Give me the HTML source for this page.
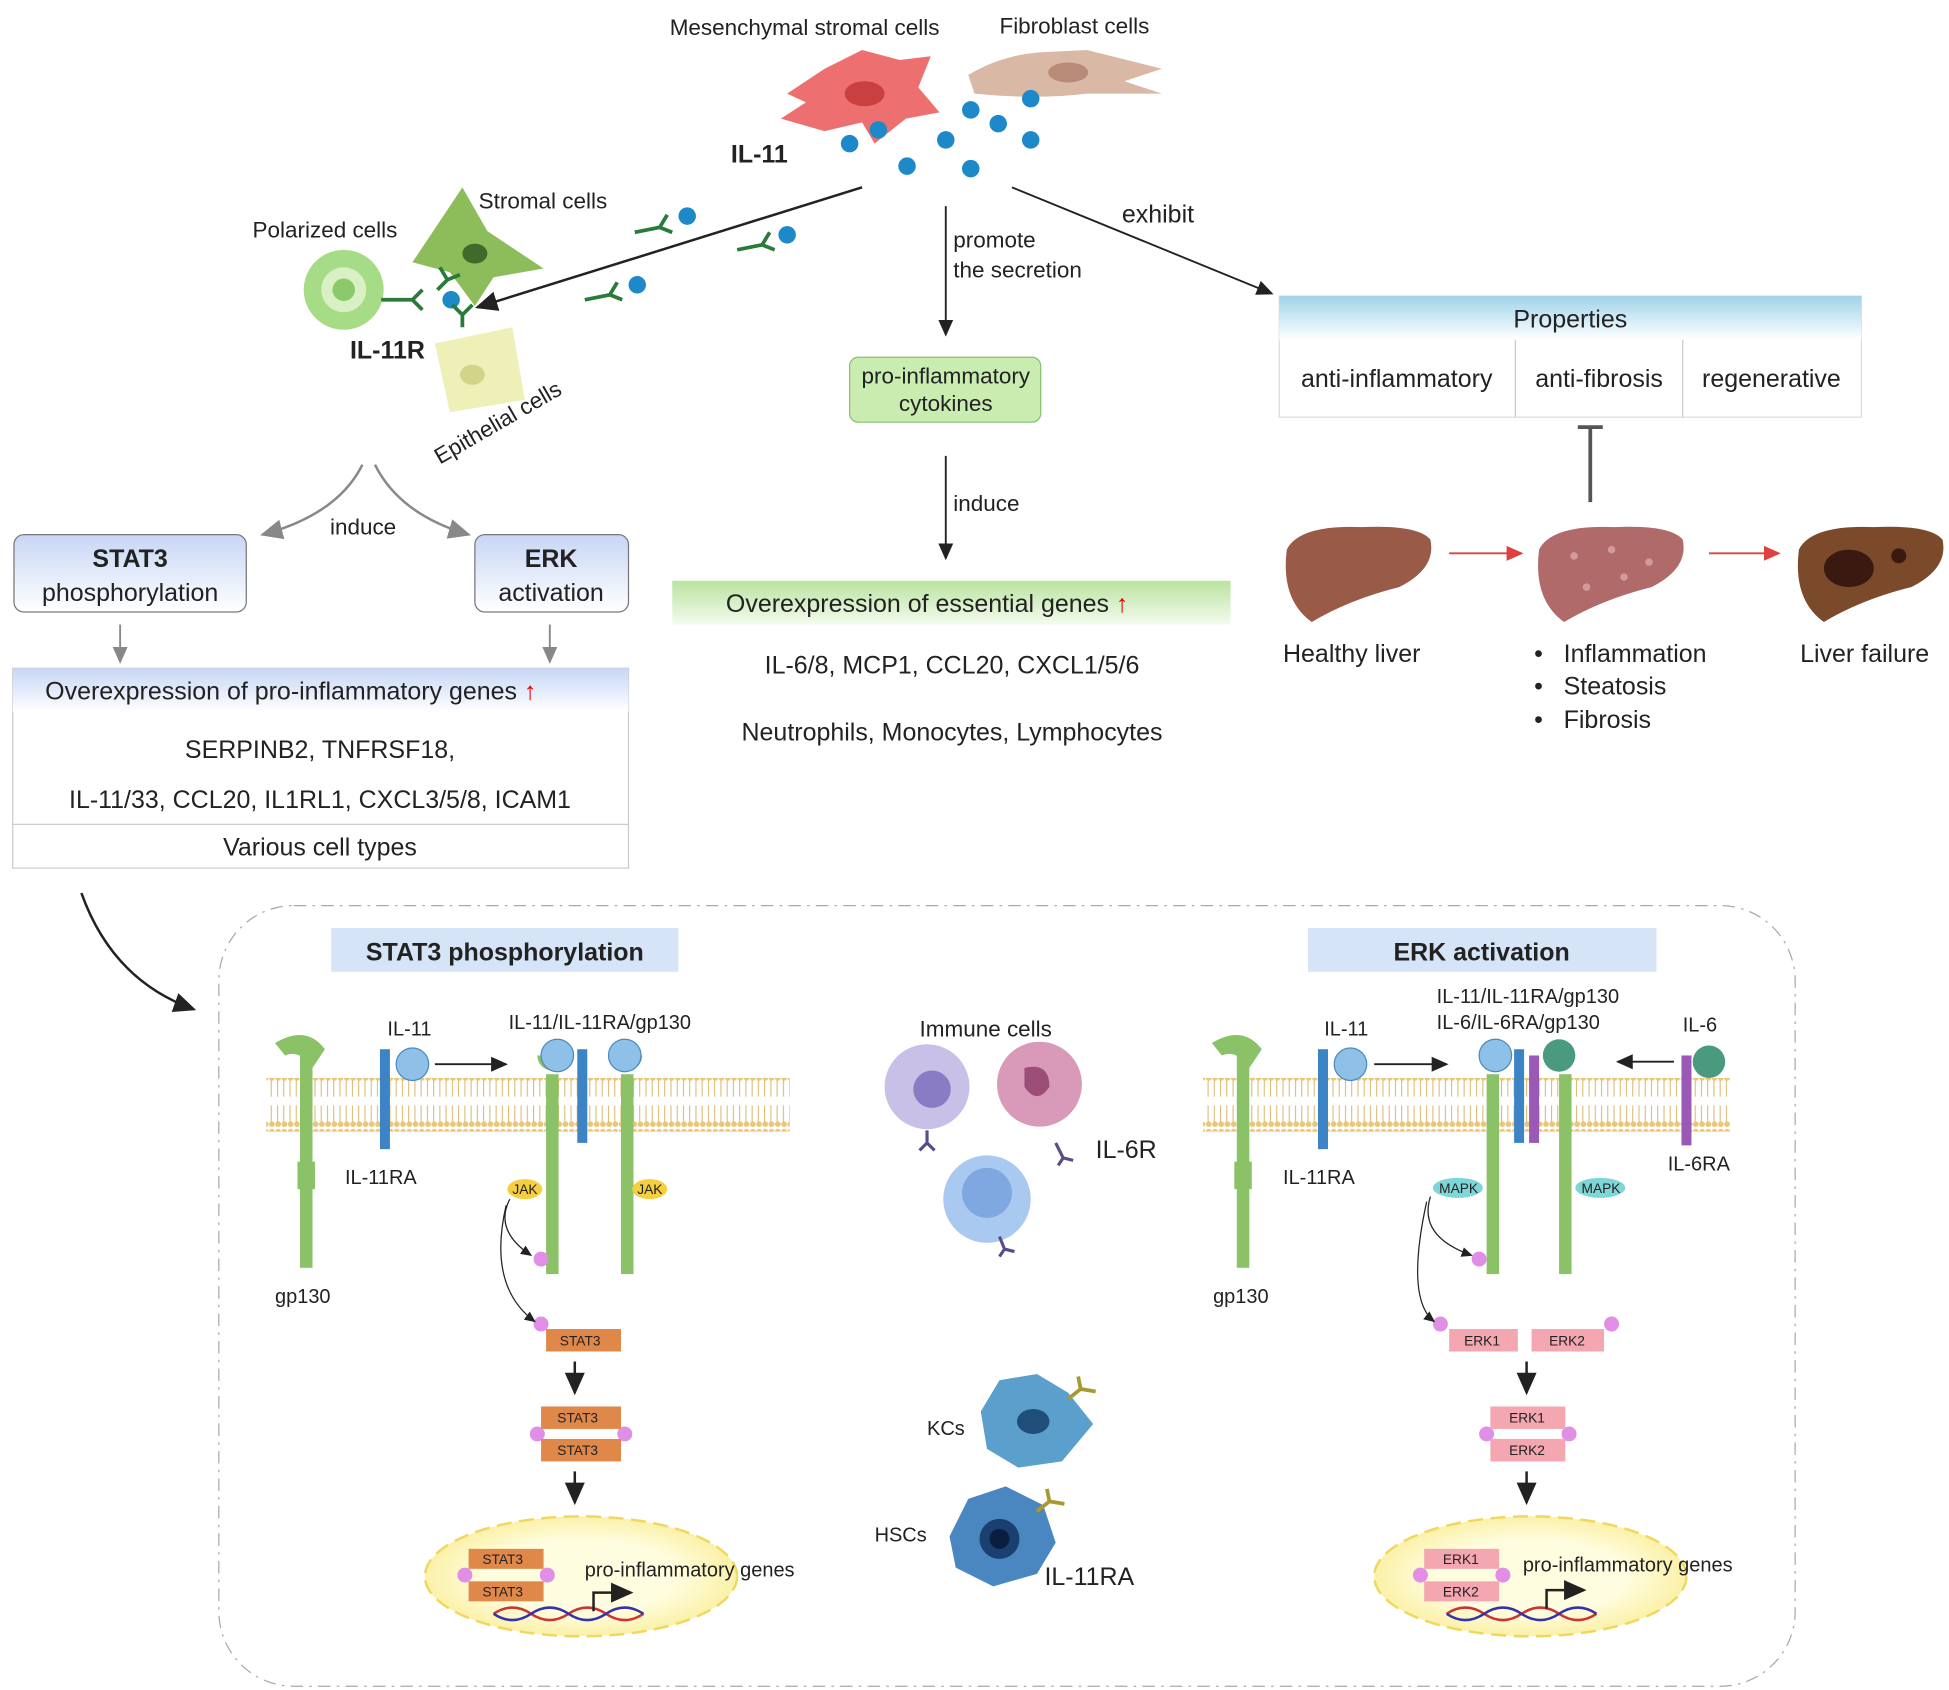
<!DOCTYPE html>
<html><head><meta charset="utf-8"><style>html,body{margin:0;padding:0;background:#fff}svg{display:block}text{font-family:"Liberation Sans",sans-serif}</style></head><body>
<svg width="1949" height="1690" viewBox="0 0 1560 1353" xmlns="http://www.w3.org/2000/svg">
<defs>
<marker id="a" markerWidth="10" markerHeight="10" refX="8" refY="5" orient="auto"><path d="M0,1 L9,5 L0,9 z" fill="#222"/></marker>
<marker id="g" markerWidth="10" markerHeight="10" refX="8" refY="5" orient="auto"><path d="M0,1 L9,5 L0,9 z" fill="#888"/></marker>
<marker id="r" markerWidth="10" markerHeight="10" refX="8" refY="5" orient="auto"><path d="M0,1 L9,5 L0,9 z" fill="#e04040"/></marker>
<linearGradient id="bl" x1="0" y1="0" x2="0" y2="1"><stop offset="0" stop-color="#9fd3ea"/><stop offset="1" stop-color="#fff"/></linearGradient>
<linearGradient id="gr" x1="0" y1="0" x2="0" y2="1"><stop offset="0" stop-color="#b9e39f"/><stop offset="1" stop-color="#f4fbef"/></linearGradient>
<linearGradient id="lv" x1="0" y1="0" x2="0" y2="1"><stop offset="0" stop-color="#c7d6f5"/><stop offset="1" stop-color="#fff"/></linearGradient>
<radialGradient id="nuc"><stop offset="0.6" stop-color="#fffde0"/><stop offset="1" stop-color="#fbf1a8"/></radialGradient>
<pattern id="mem" width="5" height="43" patternUnits="userSpaceOnUse"><rect width="5" height="43" fill="#fff"/><circle cx="2.5" cy="3" r="2.3" fill="#e8c77a"/><circle cx="2.5" cy="40" r="2.3" fill="#e8c77a"/><line x1="2" y1="5" x2="2" y2="18" stroke="#d8b66a" stroke-width="0.8"/><line x1="2" y1="25" x2="2" y2="38" stroke="#d8b66a" stroke-width="0.8"/></pattern>
</defs>
<g font-size="18" fill="#222">
<text x="536" y="28">Mesenchymal stromal cells</text>
<text x="800" y="27">Fibroblast cells</text>
<path d="M630,75 L660,55 L690,40 L720,48 L745,45 L735,70 L752,90 L725,95 L700,115 L690,98 L660,105 L625,95 L645,82z" fill="#ee6f6f"/>
<ellipse cx="692" cy="75" rx="16" ry="10" fill="#c84040"/>
<path d="M775,60 Q800,45 830,42 L870,40 L930,55 L900,65 L930,75 L870,75 Q830,80 780,75z" fill="#d9b8a5"/>
<ellipse cx="855" cy="58" rx="16" ry="8" fill="#b88b78"/>
<g fill="#1d89c9"><circle cx="680" cy="115" r="7"/><circle cx="703" cy="104" r="7"/><circle cx="726" cy="133" r="7"/><circle cx="757" cy="112" r="7"/><circle cx="777" cy="88" r="7"/><circle cx="799" cy="99" r="7"/><circle cx="825" cy="79" r="7"/><circle cx="825" cy="112" r="7"/><circle cx="777" cy="135" r="7"/><circle cx="361" cy="240" r="7"/><circle cx="550" cy="173" r="7"/><circle cx="630" cy="188" r="7"/><circle cx="510" cy="228" r="7"/></g>
<text x="585" y="130" font-weight="bold" font-size="20">IL-11</text>
<line x1="690" y1="150" x2="382" y2="246" stroke="#222" stroke-width="2" marker-end="url(#a)"/>
<line x1="757" y1="165" x2="757" y2="268" stroke="#222" stroke-width="1.5" marker-end="url(#a)"/>
<line x1="810" y1="150" x2="1018" y2="235" stroke="#222" stroke-width="1.5" marker-end="url(#a)"/>
<text x="763" y="198">promote</text><text x="763" y="222">the secretion</text>
<text x="898" y="178" font-size="20">exhibit</text>
<text x="202" y="190">Polarized cells</text><text x="383" y="167">Stromal cells</text>
<path d="M330,210 L370,150 L390,185 L435,215 L395,222 L380,245 L360,218z" fill="#8dbd5a"/>
<ellipse cx="380" cy="203" rx="10" ry="8" fill="#3f6b2a"/>
<circle cx="275" cy="232" r="32" fill="#a6dc85"/><circle cx="275" cy="232" r="18" fill="#d9f0c5"/><circle cx="275" cy="232" r="9" fill="#8cc96a"/>
<path d="M348,275 L410,262 L420,320 L360,330z" fill="#eef0b8"/>
<ellipse cx="378" cy="300" rx="10" ry="8" fill="#d2d48a"/>
<g stroke="#2a7a3a" stroke-width="3" fill="none"><path d="M305,240 L330,240 M330,240 l8,-8 M330,240 l8,8"/><path d="M370,262 v-10 l-8,-8 M370,252 l8,-8"/><path d="M508,186 l20,-4 l6,-10 M528,182 l10,4"/><path d="M590,200 l20,-4 l6,-10 M610,196 l10,4"/><path d="M468,240 l20,-4 l6,-10 M488,236 l10,4"/><path d="M350,232 l8,-8 M358,224 l-6,-10 M358,224 l10,-4"/></g>
<text x="280" y="287" font-weight="bold" font-size="20">IL-11R</text>
<text x="0" y="0" transform="translate(352,372) rotate(-30)">Epithelial cells</text>
<path d="M290,372 Q270,412 210,428" stroke="#888" stroke-width="2" fill="none" marker-end="url(#g)"/>
<path d="M300,372 Q320,412 375,428" stroke="#888" stroke-width="2" fill="none" marker-end="url(#g)"/>
<text x="264" y="428">induce</text>
<rect x="11" y="428" width="186" height="62" rx="8" fill="url(#lv)" stroke="#777"/>
<text x="104" y="454" text-anchor="middle" font-weight="bold" font-size="20">STAT3</text>
<text x="104" y="481" text-anchor="middle" font-size="20">phosphorylation</text>
<rect x="380" y="428" width="123" height="62" rx="8" fill="url(#lv)" stroke="#777"/>
<text x="441" y="454" text-anchor="middle" font-weight="bold" font-size="20">ERK</text>
<text x="441" y="481" text-anchor="middle" font-size="20">activation</text>
<line x1="96" y1="500" x2="96" y2="530" stroke="#888" stroke-width="1.5" marker-end="url(#g)"/>
<line x1="440" y1="500" x2="440" y2="530" stroke="#888" stroke-width="1.5" marker-end="url(#g)"/>
<rect x="10" y="535" width="493" height="160" fill="#fff" stroke="#ccc"/>
<rect x="10" y="535" width="493" height="35" fill="url(#lv)"/>
<line x1="10" y1="660" x2="503" y2="660" stroke="#ccc"/>
<text x="36" y="560" font-size="20">Overexpression of pro-inflammatory genes <tspan fill="#e00" font-weight="bold">↑</tspan></text>
<text x="256" y="607" text-anchor="middle" font-size="20">SERPINB2, TNFRSF18,</text>
<text x="256" y="647" text-anchor="middle" font-size="20">IL-11/33, CCL20, IL1RL1, CXCL3/5/8, ICAM1</text>
<text x="256" y="685" text-anchor="middle" font-size="20">Various cell types</text>
<rect x="680" y="286" width="153" height="52" rx="7" fill="#c9ecb1" stroke="#8bbf73"/>
<text x="757" y="307" text-anchor="middle">pro-inflammatory</text><text x="757" y="329" text-anchor="middle">cytokines</text>
<line x1="757" y1="365" x2="757" y2="447" stroke="#222" stroke-width="1.5" marker-end="url(#a)"/>
<text x="763" y="409">induce</text>
<rect x="538" y="465" width="447" height="35" fill="url(#gr)"/>
<text x="581" y="490" font-size="20">Overexpression of essential genes <tspan fill="#e00" font-weight="bold">↑</tspan></text>
<text x="762" y="539" text-anchor="middle" font-size="20">IL-6/8, MCP1, CCL20, CXCL1/5/6</text>
<text x="762" y="593" text-anchor="middle" font-size="20">Neutrophils, Monocytes, Lymphocytes</text>
<rect x="1024" y="237" width="466" height="97" fill="#fff" stroke="#ddd"/>
<rect x="1024" y="237" width="466" height="35" fill="url(#bl)"/>
<text x="1257" y="262" text-anchor="middle" font-size="20">Properties</text>
<line x1="1213" y1="272" x2="1213" y2="334" stroke="#ccc"/><line x1="1347" y1="272" x2="1347" y2="334" stroke="#ccc"/>
<text x="1118" y="310" text-anchor="middle" font-size="20">anti-inflammatory</text>
<text x="1280" y="310" text-anchor="middle" font-size="20">anti-fibrosis</text>
<text x="1418" y="310" text-anchor="middle" font-size="20">regenerative</text>
<line x1="1273" y1="342" x2="1273" y2="402" stroke="#555" stroke-width="3"/><line x1="1263" y1="342" x2="1283" y2="342" stroke="#555" stroke-width="3"/>
<path d="M1030,440 Q1040,420 1090,422 Q1135,420 1145,432 Q1150,455 1120,470 Q1080,480 1050,498 Q1025,480 1030,440z" fill="#9a5a48"/>
<path d="M1232,440 Q1242,420 1292,422 Q1337,420 1347,432 Q1352,455 1322,470 Q1282,480 1252,498 Q1227,480 1232,440z" fill="#b06a6a"/>
<g fill="#d49a9a"><circle cx="1260" cy="445" r="3"/><circle cx="1290" cy="440" r="3"/><circle cx="1320" cy="450" r="3"/><circle cx="1270" cy="470" r="3"/><circle cx="1300" cy="462" r="3"/></g>
<path d="M1440,440 Q1450,420 1500,422 Q1545,420 1555,432 Q1560,455 1530,470 Q1490,480 1460,498 Q1435,480 1440,440z" fill="#7a4a2a"/>
<ellipse cx="1480" cy="455" rx="20" ry="15" fill="#3a1a10"/><circle cx="1520" cy="445" r="6" fill="#3a1a10"/>
<line x1="1160" y1="443" x2="1218" y2="443" stroke="#e04040" stroke-width="1.5" marker-end="url(#r)"/>
<line x1="1368" y1="443" x2="1424" y2="443" stroke="#e04040" stroke-width="1.5" marker-end="url(#r)"/>
<text x="1027" y="530" font-size="20">Healthy liver</text>
<text x="1441" y="530" font-size="20">Liver failure</text>
<text x="1228" y="530" font-size="20">•&#160;&#160;&#160;Inflammation</text>
<text x="1228" y="556" font-size="20">•&#160;&#160;&#160;Steatosis</text>
<text x="1228" y="583" font-size="20">•&#160;&#160;&#160;Fibrosis</text>
<path d="M65,715 Q90,785 155,808" stroke="#222" stroke-width="2" fill="none" marker-end="url(#a)"/>
<rect x="175" y="725" width="1262" height="625" rx="60" fill="none" stroke="#aaa" stroke-dasharray="10,5,2,5"/>
<rect x="265" y="743" width="278" height="35" fill="#d6e4f7"/><text x="404" y="769" text-anchor="middle" font-weight="bold" font-size="20">STAT3 phosphorylation</text>
<rect x="1047" y="743" width="279" height="35" fill="#d6e4f7"/><text x="1186" y="769" text-anchor="middle" font-weight="bold" font-size="20">ERK activation</text>
<rect x="213" y="863" width="419" height="43" fill="url(#mem)"/>
<rect x="963" y="863" width="422" height="43" fill="url(#mem)"/>
<g fill="#8bc267">
<rect x="240" y="845" width="10" height="170"/><path d="M220,835 Q245,820 260,840 L250,855 Q240,840 228,845z"/>
<rect x="437" y="860" width="10" height="160"/><rect x="497" y="860" width="10" height="160"/>
<path d="M430,845 a12,12 0 0 0 24,0 h-6 a6,6 0 0 1 -12,0z"/><path d="M490,845 a12,12 0 0 0 24,0 h-6 a6,6 0 0 1 -12,0z"/>
<rect x="990" y="845" width="10" height="170"/><path d="M970,835 Q995,820 1010,840 L1000,855 Q990,840 978,845z"/>
<rect x="1190" y="860" width="10" height="160"/><rect x="1248" y="860" width="10" height="160"/>
<rect x="238" y="930" width="14" height="22"/><rect x="988" y="930" width="14" height="22"/>
</g>
<g fill="#3d84c6"><rect x="304" y="840" width="8" height="80"/><rect x="462" y="840" width="8" height="75"/><rect x="1055" y="840" width="8" height="80"/><rect x="1212" y="840" width="8" height="75"/></g>
<g fill="#9b59b6"><rect x="1346" y="845" width="8" height="72"/><rect x="1224" y="845" width="8" height="70"/></g>
<g fill="#8fc1e8" stroke="#4a8ac0"><circle cx="330" cy="852" r="13"/><circle cx="446" cy="845" r="13"/><circle cx="500" cy="845" r="13"/><circle cx="1081" cy="852" r="13"/><circle cx="1197" cy="845" r="13"/></g>
<g fill="#4a9a80"><circle cx="1368" cy="850" r="13"/><circle cx="1248" cy="845" r="13"/></g>
<line x1="348" y1="852" x2="405" y2="852" stroke="#222" stroke-width="1.5" marker-end="url(#a)"/>
<line x1="1100" y1="852" x2="1158" y2="852" stroke="#222" stroke-width="1.5" marker-end="url(#a)"/>
<line x1="1340" y1="850" x2="1295" y2="850" stroke="#222" stroke-width="1.5" marker-end="url(#a)"/>
<g font-size="16"><text x="310" y="829">IL-11</text><text x="407" y="824">IL-11/IL-11RA/gp130</text><text x="276" y="948">IL-11RA</text><text x="220" y="1043">gp130</text>
<text x="1060" y="829">IL-11</text><text x="1150" y="803">IL-11/IL-11RA/gp130</text><text x="1150" y="824">IL-6/IL-6RA/gp130</text><text x="1347" y="826">IL-6</text><text x="1027" y="948">IL-11RA</text><text x="1335" y="937">IL-6RA</text><text x="971" y="1043">gp130</text></g>
<g font-size="11"><ellipse cx="420" cy="952" rx="14" ry="8" fill="#f5cf40"/><text x="410" y="956">JAK</text><ellipse cx="520" cy="952" rx="14" ry="8" fill="#f5cf40"/><text x="510" y="956">JAK</text>
<ellipse cx="1167" cy="951" rx="20" ry="8" fill="#7fd6d6"/><text x="1152" y="955">MAPK</text><ellipse cx="1281" cy="951" rx="20" ry="8" fill="#7fd6d6"/><text x="1266" y="955">MAPK</text></g>
<g fill="#e08ee6"><circle cx="433" cy="1008" r="6"/><circle cx="433" cy="1060" r="6"/><circle cx="1184" cy="1008" r="6"/><circle cx="1153" cy="1060" r="6"/><circle cx="1290" cy="1060" r="6"/>
<circle cx="430" cy="1148" r="6"/><circle cx="500" cy="1148" r="6"/><circle cx="372" cy="1261" r="6"/><circle cx="438" cy="1261" r="6"/>
<circle cx="1190" cy="1148" r="6"/><circle cx="1256" cy="1148" r="6"/><circle cx="1137" cy="1261" r="6"/><circle cx="1203" cy="1261" r="6"/></g>
<path d="M408,960 Q395,985 425,1005" stroke="#222" fill="none" marker-end="url(#a)"/><path d="M405,965 Q390,1030 428,1058" stroke="#222" fill="none" marker-end="url(#a)"/>
<path d="M1145,958 Q1135,990 1178,1005" stroke="#222" fill="none" marker-end="url(#a)"/><path d="M1142,962 Q1125,1040 1148,1058" stroke="#222" fill="none" marker-end="url(#a)"/>
<g font-size="11"><rect x="437" y="1064" width="60" height="18" fill="#e0884a"/><text x="448" y="1077">STAT3</text>
<rect x="433" y="1126" width="64" height="18" fill="#e0884a"/><text x="446" y="1139">STAT3</text><rect x="433" y="1152" width="64" height="18" fill="#e0884a"/><text x="446" y="1165">STAT3</text>
<rect x="375" y="1240" width="60" height="16" fill="#e0884a"/><text x="386" y="1252">STAT3</text><rect x="375" y="1266" width="60" height="16" fill="#e0884a"/><text x="386" y="1278">STAT3</text>
<rect x="1160" y="1064" width="55" height="18" fill="#f4a7b0"/><text x="1172" y="1077">ERK1</text><rect x="1226" y="1064" width="58" height="18" fill="#f4a7b0"/><text x="1240" y="1077">ERK2</text>
<rect x="1193" y="1126" width="60" height="18" fill="#f4a7b0"/><text x="1208" y="1139">ERK1</text><rect x="1193" y="1152" width="60" height="18" fill="#f4a7b0"/><text x="1208" y="1165">ERK2</text></g>
<g stroke="#222" stroke-width="2"><line x1="460" y1="1090" x2="460" y2="1115" marker-end="url(#a)"/><line x1="460" y1="1178" x2="460" y2="1203" marker-end="url(#a)"/><line x1="1222" y1="1090" x2="1222" y2="1115" marker-end="url(#a)"/><line x1="1222" y1="1178" x2="1222" y2="1203" marker-end="url(#a)"/></g>
<ellipse cx="465" cy="1262" rx="125" ry="48" fill="url(#nuc)" stroke="#f0d860" stroke-width="2" stroke-dasharray="12,6"/>
<ellipse cx="1225" cy="1262" rx="125" ry="48" fill="url(#nuc)" stroke="#f0d860" stroke-width="2" stroke-dasharray="12,6"/>
<g font-size="11"><rect x="375" y="1240" width="60" height="16" fill="#e0884a"/><text x="386" y="1252">STAT3</text><rect x="375" y="1266" width="60" height="16" fill="#e0884a"/><text x="386" y="1278">STAT3</text>
<rect x="1140" y="1240" width="60" height="16" fill="#f4a7b0"/><text x="1155" y="1252">ERK1</text><rect x="1140" y="1266" width="60" height="16" fill="#f4a7b0"/><text x="1155" y="1278">ERK2</text></g>
<g fill="#e08ee6"><circle cx="372" cy="1261" r="6"/><circle cx="438" cy="1261" r="6"/><circle cx="1137" cy="1261" r="6"/><circle cx="1203" cy="1261" r="6"/></g>
<text x="468" y="1262" font-size="16">pro-inflammatory genes</text><text x="1219" y="1258" font-size="16">pro-inflammatory genes</text>
<path d="M395,1292 q15,-10 30,0 t30,0 t30,0 t30,0" stroke="#c33" fill="none" stroke-width="2"/><path d="M395,1292 q15,10 30,0 t30,0 t30,0 t30,0" stroke="#33a" fill="none" stroke-width="2"/>
<path d="M1158,1292 q15,-10 30,0 t30,0 t30,0 t30,0" stroke="#c33" fill="none" stroke-width="2"/><path d="M1158,1292 q15,10 30,0 t30,0 t30,0 t30,0" stroke="#33a" fill="none" stroke-width="2"/>
<path d="M475,1290 v-15 h30" stroke="#222" stroke-width="2" fill="none" marker-end="url(#a)"/><path d="M1238,1288 v-15 h30" stroke="#222" stroke-width="2" fill="none" marker-end="url(#a)"/>
<text x="736" y="830">Immune cells</text>
<circle cx="742" cy="870" r="34" fill="#c9c0e8"/><circle cx="746" cy="872" r="15" fill="#8a7cc4"/>
<circle cx="832" cy="868" r="34" fill="#d89ab8"/><path d="M820,855 q20,-5 20,15 q-10,15 -20,0z" fill="#9c4d78"/>
<circle cx="790" cy="960" r="35" fill="#a9c9f0"/><circle cx="790" cy="955" r="20" fill="#7fa8e0"/>
<g stroke="#5a4a8a" stroke-width="2.5" fill="none"><path d="M742,905 v10 l-6,6 M742,915 l6,6"/><path d="M845,915 l6,12 l-4,6 M851,927 l8,2"/><path d="M800,990 l4,10 l-4,6 M804,1000 l8,2"/></g>
<text x="877" y="927" font-size="20">IL-6R</text>
<path d="M785,1130 L800,1105 L830,1100 L855,1115 L875,1140 L850,1170 L815,1175 L790,1160z" fill="#5b9fcc"/><ellipse cx="827" cy="1138" rx="13" ry="10" fill="#1f4e7a"/>
<path d="M760,1230 L775,1200 L805,1190 L835,1205 L845,1235 L830,1260 L795,1270 L765,1255z" fill="#4a86c0"/><circle cx="800" cy="1232" r="16" fill="#1a3f70"/><circle cx="800" cy="1232" r="8" fill="#0a1f40"/>
<g stroke="#a89a30" stroke-width="3" fill="none"><path d="M855,1120 l10,-8 l-2,-10 M865,1112 l12,2"/><path d="M830,1210 l10,-8 l-2,-10 M840,1202 l12,2"/></g>
<text x="742" y="1149" font-size="16">KCs</text><text x="700" y="1234" font-size="16">HSCs</text>
<text x="836" y="1269" font-size="20">IL-11RA</text>
</g>
</svg>
</body></html>
